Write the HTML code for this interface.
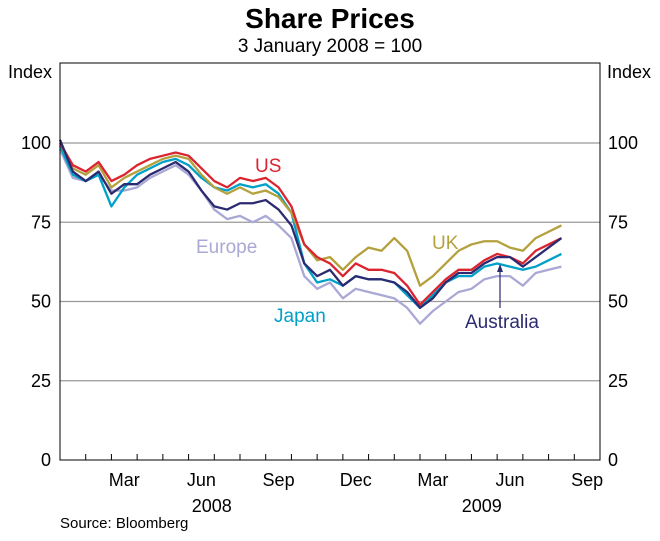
<!DOCTYPE html>
<html><head><meta charset="utf-8"><style>
body{margin:0;background:#fff;}
svg text{font-family:"Liberation Sans",Arial,sans-serif;}
</style></head><body>
<svg id="c" width="660" height="536">
<text x="330" y="28" text-anchor="middle" font-size="28" font-weight="bold">Share Prices</text>
<text x="330" y="52" text-anchor="middle" font-size="19">3 January 2008 = 100</text>
<text x="8" y="78" font-size="18">Index</text>
<text x="607" y="78" font-size="18">Index</text>
<text x="60" y="528" font-size="15">Source: Bloomberg</text>
<g id="grid"></g><g id="lines"></g>
<rect x="60" y="63" width="540" height="397" fill="none" stroke="#000" stroke-width="1"/>
<g id="labels"></g>
</svg>
<script>
const months=['','','Mar','','','Jun','','','Sep','','','Dec','','','Mar','','','Jun','','','Sep'];
const yearLabels=['2008','2009'];
const yTicks=[0,25,50,75,100];
const us=[100,93,91,94,88,90,93,95,96,97,96,92,88,86,89,88,89,86,80,68,64,62,58,62,60,60,59,55,49,53,57,60,60,63,65,64,62,66,68,70];
const uk=[100,92,90,93,86,89,91,93,95,96,95,90,86,84,86,84,85,83,78,68,63,64,60,64,67,66,70,66,55,58,62,66,68,69,69,67,66,70,72,74];
const japan=[99,90,88,90,80,86,90,92,94,95,93,89,86,85,87,86,87,84,78,62,56,57,55,58,57,57,56,52,48,52,56,58,58,61,62,61,60,61,63,65];
const europe=[98,89,88,90,85,85,86,89,91,93,90,85,79,76,77,75,77,74,70,58,54,56,51,54,53,52,51,48,43,47,50,53,54,57,58,58,55,59,60,61];
const australia=[101,91,88,91,84,87,87,90,92,94,91,85,80,79,81,81,82,79,74,62,58,60,55,58,57,57,56,53,48,51,56,59,59,62,64,64,61,64,67,70];
const NS='http://www.w3.org/2000/svg';
const X=m=>60+m*(540/21), Y=v=>460-v*3.17;
function mk(t,a,p){const e=document.createElementNS(NS,t);for(const k in a)e.setAttribute(k,a[k]);p.appendChild(e);return e;}
const grid=document.getElementById('grid'),lines=document.getElementById('lines'),labels=document.getElementById('labels');
yTicks.forEach(v=>{
 if(v>0){const g=mk('line',{x1:60,x2:600,y1:Y(v),y2:Y(v),stroke:'#999','stroke-width':1.3},grid);
 
 }
 const l=mk('text',{x:51,y:Y(v)+6,'text-anchor':'end','font-size':18},labels);l.textContent=v;
 
 
 const r=mk('text',{x:608,y:Y(v)+6,'font-size':18},labels);r.textContent=v;
 
 
});
for(let m=1;m<21;m++){const t=mk('line',{x1:X(m),x2:X(m),y1:460,y2:454,stroke:'#000'},labels);
 
 }
months.forEach((mn,i)=>{if(!mn)return;const t=mk('text',{x:X(i+0.5),y:486,'text-anchor':'middle','font-size':18},labels);t.textContent=mn;
 
 });
yearLabels.forEach((yr,i)=>{const t=mk('text',{x:i==0?X(5.9):X(16.4),y:512,'text-anchor':'middle','font-size':18},labels);t.textContent=yr;
 
 });
const series=[['europe',europe,'#aaa8d4'],['japan',japan,'#00a0c8'],['uk',uk,'#b4a03c'],['us',us,'#dc2430'],['australia',australia,'#2c2a70']];
series.forEach(([n,d,c])=>{const p=mk('polyline',{points:d.map((v,i)=>X(i*0.5)+','+Y(v)).join(' '),fill:'none',stroke:c,'stroke-width':2.3,'stroke-linejoin':'round'},lines);
 
 });
const lab=[['US',255,172,'#dc2430'],['UK',432,249,'#b4a03c'],['Europe',196,253,'#aaa8d4'],['Japan',274,322,'#00a0c8'],['Australia',465,328,'#2c2a70']];
lab.forEach(([t,x,y,c])=>{const e=mk('text',{x:x,y:y,'font-size':19,fill:c},labels);e.textContent=t;
 
 });
const a=mk('line',{x1:500,x2:500,y1:308,y2:270,stroke:'#2c2a70','stroke-width':1.2},labels);


const ah=mk('polygon',{points:'500,264 497,272 503,272',fill:'#2c2a70'},labels);


</script>
</body></html>
